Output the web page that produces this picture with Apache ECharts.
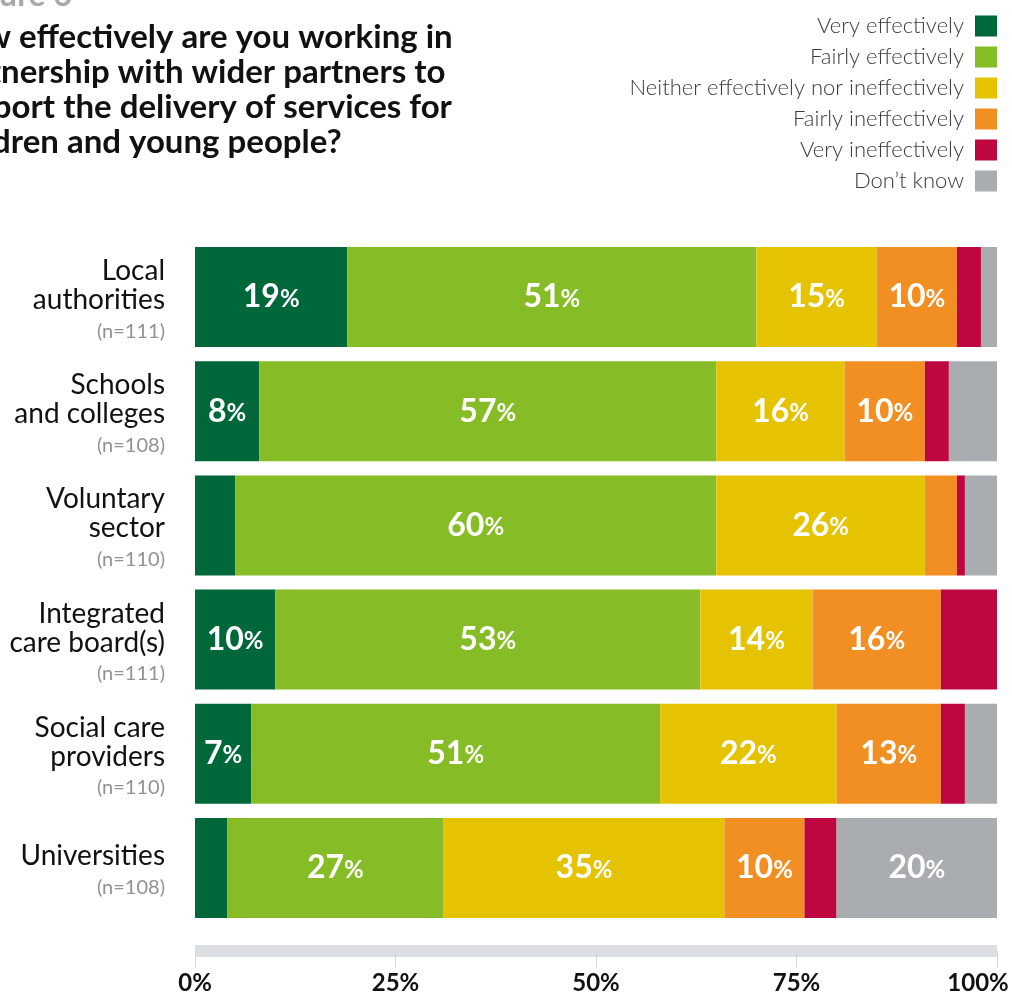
<!DOCTYPE html>
<html>
<head>
<meta charset="utf-8">
<title>Partnership working</title>
<script src="https://cdn.jsdelivr.net/npm/echarts@6/dist/echarts.min.js"></script>
<style>
  html, body { margin: 0; padding: 0; background: #ffffff; }
  #chart { width: 1012px; height: 994px; }
</style>
</head>
<body>
<div id="chart"></div>
<script>
// Organisation groups (top to bottom) and number of respondents
const categories = ['Local\nauthorities', 'Schools\nand colleges', 'Voluntary\nsector', 'Integrated\ncare board(s)', 'Social care\nproviders', 'Universities'];
const sampleSizes = [111, 108, 110, 111, 110, 108];

// Response shares, percent of respondents
const veryEffectively      = [19, 8, 5, 10, 7, 4];
const fairlyEffectively    = [51, 57, 60, 53, 51, 27];
const neitherResponse      = [15, 16, 26, 14, 22, 35];
const fairlyIneffectively  = [10, 10, 4, 16, 13, 10];
const veryIneffectively    = [3, 3, 1, 7, 3, 4];
const dontKnow             = [2, 6, 4, 0, 4, 20];

const responseNames = ['Very effectively', 'Fairly effectively', 'Neither effectively nor ineffectively', 'Fairly ineffectively', 'Very ineffectively', 'Don\u2019t know'];
const responseValues = [veryEffectively, fairlyEffectively, neitherResponse, fairlyIneffectively, veryIneffectively, dontKnow];
const responseColors = ['#00673b', '#86bc25', '#e5c300', '#f28f22', '#be0641', '#aaadb0'];
// the thin "very ineffectively" segments carry no value label
const labelledSeries = [true, true, true, true, false, true];

const axisTicks = [0, 25, 50, 75, 100];

const FONT = 'Lato, "Open Sans", sans-serif';

const chart = echarts.init(document.getElementById('chart'), null, { renderer: 'canvas' });

const series = responseNames.map((name, i) => ({
  name: name,
  type: 'bar',
  stack: 'total',
  barCategoryGap: '12.4%',
  data: responseValues[i],
  itemStyle: { color: responseColors[i] },
  emphasis: { disabled: true },
  label: {
    show: labelledSeries[i],
    position: 'inside',
    formatter: p => (p.value >= 7 ? '{a|' + p.value + '}{b|%}' : ''),
    rich: {
      a: { fontFamily: FONT, fontWeight: 'bold', fontSize: 32, color: '#ffffff' },
      b: { fontFamily: FONT, fontWeight: 'bold', fontSize: 24, color: '#ffffff', padding: [4, 0, 0, 0] }
    }
  }
}));

const tickLabelStyle = { fontFamily: FONT, fontWeight: 'bold', fontSize: 24, color: '#111111' };

const option = {
  backgroundColor: '#ffffff',
  animation: false,
  legend: {
    data: responseNames,
    orient: 'vertical',
    right: 10,
    top: 10,
    align: 'right',
    icon: 'rect',
    itemWidth: 22,
    itemHeight: 21,
    itemGap: 9,
    selectedMode: false,
    textStyle: {
      fontFamily: FONT,
      fontWeight: 300,
      fontSize: 22,
      lineHeight: 21,
      color: '#3a3a3a',
      padding: [0, 6, 0, 0]
    }
  },
  grid: { left: 195, right: 15, top: 240, bottom: 69, containLabel: false, outerBoundsMode: 'none' },
  xAxis: {
    type: 'value',
    min: axisTicks[0],
    max: axisTicks[axisTicks.length - 1],
    interval: axisTicks[1] - axisTicks[0],
    position: 'bottom',
    offset: 26,
    axisLine: { show: true, lineStyle: { color: '#dcdfe2', width: 12, cap: 'butt' } },
    axisTick: { show: true, length: 17, lineStyle: { color: '#d3d6da', width: 1 } },
    splitLine: { show: false },
    axisLabel: {
      margin: 20,
      // the last tick label is pulled in so it stays inside the page
      formatter: v => (v === axisTicks[axisTicks.length - 1] ? '{edge|' + v + '%}' : '{t|' + v + '%}'),
      rich: {
        t: tickLabelStyle,
        edge: Object.assign({ padding: [0, 38, 0, 0] }, tickLabelStyle)
      }
    }
  },
  yAxis: {
    type: 'category',
    inverse: true,
    data: categories,
    axisLine: { show: false },
    axisTick: { show: false },
    axisLabel: {
      margin: 30,
      align: 'right',
      padding: [10, 0, 0, 0],
      formatter: (value, idx) => value.split('\n').map(line => '{name|' + line + '}').join('\n') + '\n{n|(n=' + sampleSizes[idx] + ')}',
      rich: {
        name: { fontFamily: FONT, fontSize: 28, lineHeight: 29, color: '#111111', align: 'right' },
        n: { fontFamily: FONT, fontSize: 20, lineHeight: 33, color: '#8f9397', align: 'right' }
      }
    }
  },
  graphic: [
    {
      type: 'text',
      left: -44,
      top: -20,
      style: {
        text: 'Figure 6',
        font: 'bold 32px ' + FONT,
        fill: '#a7a9ac'
      }
    },
    {
      type: 'text',
      left: -59,
      top: 20,
      style: {
        text: 'How effectively are you working in\npartnership with wider partners to\nsupport the delivery of services for\nchildren and young people?',
        font: 'bold 33px ' + FONT,
        lineHeight: 35,
        fill: '#111111'
      }
    }
  ],
  series: series
};

chart.setOption(option);
</script>
</body>
</html>
